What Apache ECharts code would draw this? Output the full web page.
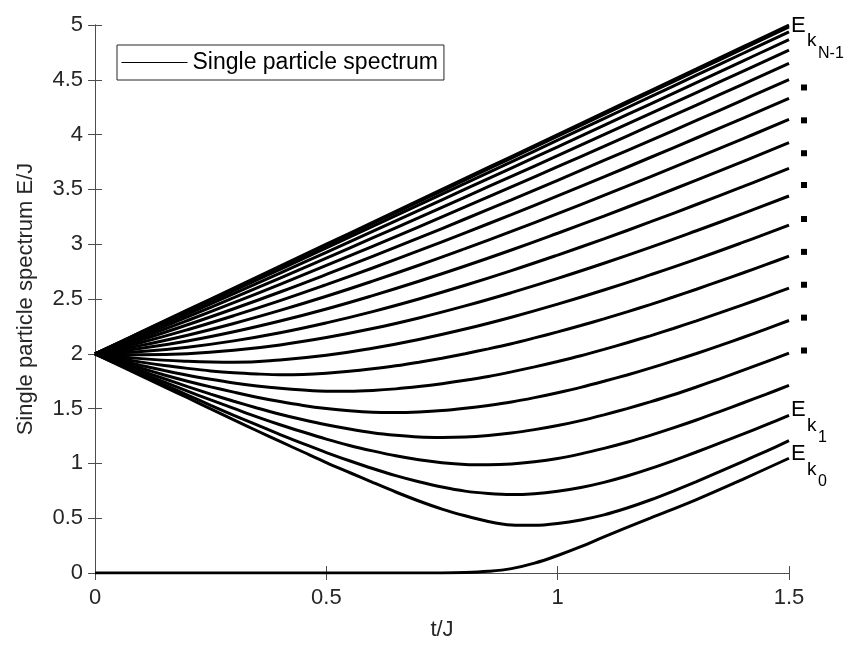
<!DOCTYPE html>
<html>
<head>
<meta charset="utf-8">
<script src="https://cdn.jsdelivr.net/npm/echarts@6/dist/echarts.min.js"></script>
<style>
  html, body { margin: 0; padding: 0; background: #fff; }
  #main { width: 845px; height: 646px; }
</style>
</head>
<body>
<div id="main"></div>
<script>
// t/J sample points: coarse grid for the upper bands, finer grid for the curved lower bands
const tGrid = [0, 0.1, 0.2, 0.3, 0.4, 0.5, 0.6, 0.7, 0.8, 0.9, 1.0, 1.1, 1.2, 1.3, 1.4, 1.5];
const tFine = [0, 0.05, 0.1, 0.15, 0.2, 0.25, 0.3, 0.35, 0.4, 0.45, 0.5, 0.55, 0.6, 0.65, 0.7, 0.75,
               0.8, 0.85, 0.9, 0.95, 1.0, 1.05, 1.1, 1.15, 1.2, 1.25, 1.3, 1.35, 1.4, 1.45, 1.5];

// lowest band: flat at zero, then lifts off near t/J = 0.8
const zeroT = [0, 0.2, 0.4, 0.6, 0.7, 0.8, 0.85, 0.9, 0.95, 1.0, 1.05, 1.1, 1.2, 1.3, 1.4, 1.5];
const zeroE = [0, 0, 0, 0, 0, 0.005, 0.015, 0.04, 0.09, 0.16, 0.24, 0.33, 0.5, 0.67, 0.855, 1.047];

// lower bands starting from E/J = 2 (on tFine)
const k1 = [2, 1.899, 1.798, 1.698, 1.599, 1.497, 1.397, 1.298, 1.200, 1.104, 1.008, 0.917, 0.827, 0.739, 0.657, 0.583,
            0.522, 0.470, 0.438, 0.435, 0.452, 0.484, 0.530, 0.593, 0.666, 0.748, 0.834, 0.924, 1.017, 1.110, 1.207];
const k2 = [2, 1.904, 1.810, 1.716, 1.624, 1.530, 1.439, 1.351, 1.263, 1.180, 1.099, 1.024, 0.953, 0.888, 0.832, 0.784,
            0.747, 0.726, 0.716, 0.724, 0.746, 0.780, 0.827, 0.885, 0.952, 1.026, 1.104, 1.185, 1.267, 1.351, 1.438];
const k3 = [2, 1.912, 1.825, 1.741, 1.659, 1.579, 1.502, 1.425, 1.353, 1.286, 1.222, 1.164, 1.114, 1.069, 1.033, 1.007,
            0.991, 0.988, 0.995, 1.015, 1.045, 1.087, 1.137, 1.193, 1.256, 1.324, 1.396, 1.473, 1.551, 1.630, 1.712];
const k4 = [2, 1.921, 1.845, 1.772, 1.701, 1.632, 1.567, 1.506, 1.449, 1.398, 1.352, 1.313, 1.280, 1.257, 1.241, 1.237,
            1.241, 1.255, 1.277, 1.308, 1.345, 1.390, 1.443, 1.500, 1.561, 1.626, 1.697, 1.772, 1.849, 1.926, 2.006];
const k5 = [2, 1.932, 1.868, 1.807, 1.750, 1.698, 1.650, 1.604, 1.564, 1.529, 1.501, 1.480, 1.467, 1.465, 1.470, 1.482,
            1.503, 1.529, 1.560, 1.600, 1.645, 1.694, 1.749, 1.807, 1.869, 1.935, 2.003, 2.075, 2.149, 2.225, 2.304];
const k6 = [2, 1.945, 1.894, 1.847, 1.804, 1.767, 1.734, 1.707, 1.685, 1.669, 1.659, 1.659, 1.666, 1.680, 1.701, 1.727,
            1.758, 1.793, 1.835, 1.881, 1.930, 1.982, 2.040, 2.101, 2.164, 2.231, 2.301, 2.373, 2.447, 2.522, 2.600];
const k7 = [2, 1.960, 1.924, 1.893, 1.867, 1.844, 1.827, 1.816, 1.809, 1.812, 1.823, 1.840, 1.863, 1.890, 1.923, 1.960,
            2.001, 2.045, 2.092, 2.145, 2.200, 2.258, 2.319, 2.383, 2.449, 2.518, 2.589, 2.663, 2.737, 2.813, 2.891];

// upper bands starting from E/J = 2 (on tGrid)
const k8  = [2, 1.956, 1.932, 1.923, 1.944, 1.986, 2.051, 2.131, 2.226, 2.334, 2.453, 2.582, 2.720, 2.864, 3.016, 3.174];
const k9  = [2, 1.991, 2.001, 2.032, 2.081, 2.148, 2.230, 2.327, 2.437, 2.558, 2.688, 2.826, 2.971, 3.123, 3.279, 3.440];
const k10 = [2, 2.020, 2.060, 2.118, 2.192, 2.282, 2.385, 2.500, 2.625, 2.759, 2.901, 3.049, 3.203, 3.362, 3.525, 3.691];
const k11 = [2, 2.050, 2.117, 2.201, 2.299, 2.409, 2.531, 2.662, 2.801, 2.947, 3.100, 3.257, 3.419, 3.585, 3.754, 3.926];
const k12 = [2, 2.077, 2.170, 2.277, 2.396, 2.525, 2.663, 2.808, 2.960, 3.117, 3.279, 3.445, 3.614, 3.787, 3.961, 4.139];
const k13 = [2, 2.103, 2.220, 2.348, 2.485, 2.631, 2.783, 2.941, 3.104, 3.270, 3.441, 3.614, 3.791, 3.969, 4.149, 4.331];
const k14 = [2, 2.127, 2.265, 2.411, 2.564, 2.724, 2.889, 3.057, 3.230, 3.405, 3.583, 3.764, 3.946, 4.129, 4.315, 4.501];
const k15 = [2, 2.148, 2.304, 2.466, 2.634, 2.806, 2.981, 3.159, 3.340, 3.523, 3.707, 3.893, 4.081, 4.269, 4.459, 4.649];
const k16 = [2, 2.166, 2.337, 2.512, 2.691, 2.873, 3.057, 3.242, 3.430, 3.619, 3.808, 3.999, 4.191, 4.384, 4.577, 4.770];
const k17 = [2, 2.180, 2.363, 2.549, 2.737, 2.926, 3.117, 3.309, 3.502, 3.695, 3.889, 4.084, 4.279, 4.475, 4.671, 4.867];
const k18 = [2, 2.191, 2.383, 2.576, 2.771, 2.966, 3.162, 3.358, 3.554, 3.751, 3.949, 4.146, 4.344, 4.542, 4.740, 4.938];
const k19 = [2, 2.197, 2.395, 2.593, 2.791, 2.990, 3.189, 3.388, 3.587, 3.786, 3.985, 4.184, 4.384, 4.583, 4.782, 4.982];
const k20 = [2, 2.200, 2.400, 2.600, 2.800, 3.000, 3.200, 3.400, 3.600, 3.800, 4.000, 4.200, 4.400, 4.600, 4.800, 4.999];

const fineBands = [k1, k2, k3, k4, k5, k6, k7];
const coarseBands = [k8, k9, k10, k11, k12, k13, k14, k15, k16, k17, k18, k19, k20];

// ellipsis squares on the right-hand side (E/J levels)
const dotLevels = [4.43, 4.13, 3.83, 3.54, 3.23, 2.93, 2.63, 2.33, 2.03];
// label anchors (E/J level of the "E" glyph centre)
const labelTop = 4.99, labelK1 = 1.484, labelK0 = 1.082;

const seriesName = 'Single particle spectrum';
const fontFam = '"Liberation Sans", Arial, Helvetica, sans-serif';

const chart = echarts.init(document.getElementById('main'), null, { renderer: 'canvas' });

function pairUp(xs, ys) {
  return xs.map((x, i) => [x, ys[i]]);
}
function bandSeries(xs, ys, smooth) {
  return {
    name: seriesName,
    type: 'line',
    data: pairUp(xs, ys),
    smooth: smooth,
    symbol: 'none',
    itemStyle: { color: '#000' },
    lineStyle: { color: '#000', width: 3 }
  };
}

let series = [];
series.push(bandSeries(zeroT, zeroE, 0.4));
for (let b of fineBands) series.push(bandSeries(tFine, b, 0.3));
for (let b of coarseBands) series.push(bandSeries(tGrid, b, 0.45));

const axisColor = '#4d4d4d';
const option = {
  animation: false,
  backgroundColor: '#fff',
  grid: { left: 95, right: 56, top: 25, bottom: 73 },
  legend: {
    data: [seriesName],
    left: 117,
    top: 45,
    orient: 'horizontal',
    backgroundColor: '#fff',
    borderColor: '#262626',
    borderWidth: 1,
    borderRadius: 0,
    padding: [6, 6, 6, 4],
    itemWidth: 66,
    itemHeight: 14,
    itemGap: 4,
    itemStyle: { opacity: 0 },
    lineStyle: { width: 1, color: '#000' },
    textStyle: { fontFamily: fontFam, fontSize: 23, color: '#000' }
  },
  xAxis: [{
    type: 'value',
    min: 0, max: 1.5, interval: 0.5,
    name: 't/J',
    nameLocation: 'middle',
    nameGap: 46,
    nameTextStyle: { fontFamily: fontFam, fontSize: 22, color: '#262626' },
    axisLine: { show: true, lineStyle: { color: axisColor, width: 1 } },
    axisTick: { show: true, inside: true, length: 7, lineStyle: { color: axisColor } },
    axisLabel: { fontFamily: fontFam, fontSize: 22, color: '#262626', margin: 14 },
    splitLine: { show: false }
  }, {
    type: 'value', position: 'top',
    min: 0, max: 1.5, interval: 0.5,
    axisLine: { show: true, lineStyle: { color: axisColor, width: 1 } },
    axisTick: { show: true, inside: true, length: 7, lineStyle: { color: axisColor } },
    axisLabel: { show: false },
    splitLine: { show: false }
  }],
  yAxis: [{
    type: 'value',
    min: 0, max: 5, interval: 0.5,
    name: 'Single particle spectrum E/J',
    nameLocation: 'middle',
    nameGap: 58,
    nameTextStyle: { fontFamily: fontFam, fontSize: 22, color: '#262626' },
    axisLine: { show: true, lineStyle: { color: axisColor, width: 1 } },
    axisTick: { show: true, inside: true, length: 7, lineStyle: { color: axisColor } },
    axisLabel: { fontFamily: fontFam, fontSize: 22, color: '#262626', margin: 12 },
    splitLine: { show: false }
  }, {
    type: 'value', position: 'right',
    min: 0, max: 5, interval: 0.5,
    axisLine: { show: true, lineStyle: { color: axisColor, width: 1 } },
    axisTick: { show: true, inside: true, length: 7, lineStyle: { color: axisColor } },
    axisLabel: { show: false },
    splitLine: { show: false }
  }],
  series: series
};

chart.setOption(option);

// annotations to the right of the plot
function px(v) {
  return chart.convertToPixel({ xAxisIndex: 0, yAxisIndex: 0 }, [1.5, v]);
}
let graphics = [];
for (let lv of dotLevels) {
  const p = px(lv);
  graphics.push({
    type: 'rect',
    shape: { x: p[0] + 12, y: p[1] - 3, width: 6, height: 6 },
    style: { fill: '#000' }
  });
}
function subLabel(level, sub, subsub) {
  const p = px(level);
  const x0 = p[0] + 2, y0 = p[1];
  graphics.push({
    type: 'text', x: x0, y: y0,
    style: { text: 'E', font: '22px ' + fontFam, fill: '#000', textVerticalAlign: 'middle' }
  });
  graphics.push({
    type: 'text', x: x0 + 16, y: y0 + 15,
    style: { text: sub, font: '19px ' + fontFam, fill: '#000', textVerticalAlign: 'middle' }
  });
  graphics.push({
    type: 'text', x: x0 + 27, y: y0 + 27,
    style: { text: subsub, font: '16px ' + fontFam, fill: '#000', textVerticalAlign: 'middle' }
  });
}
subLabel(labelTop, 'k', 'N-1');
subLabel(labelK1, 'k', '1');
subLabel(labelK0, 'k', '0');
chart.setOption({ graphic: graphics });
</script>
</body>
</html>
